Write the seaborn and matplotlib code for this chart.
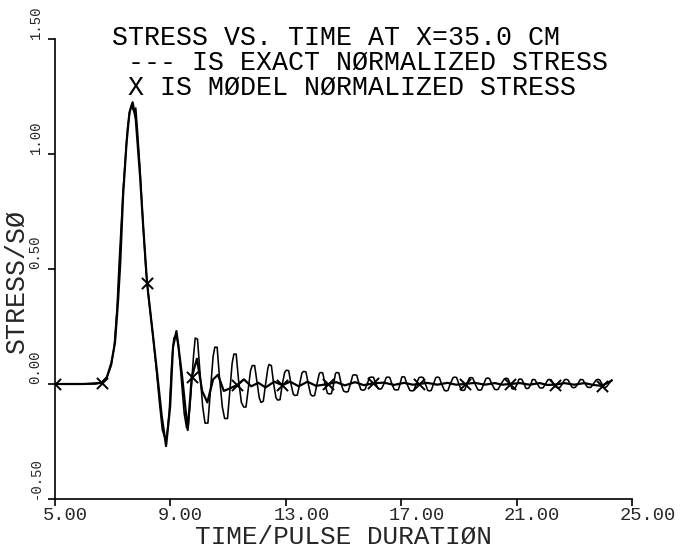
import numpy as np
import pandas as pd
import matplotlib
matplotlib.use("Agg")
import matplotlib.pyplot as plt
import matplotlib.transforms as mtransforms
import seaborn as sns

# ---------------- data ----------------
exact_t = [5.00, 6.40, 6.60, 6.80, 6.95, 7.05, 7.15, 7.22, 7.30, 7.36, 7.45, 7.52, 7.60, 7.66, 7.70,
           7.75, 7.80, 7.86, 7.95, 8.05, 8.15, 8.25, 8.38, 8.50, 8.62, 8.72, 8.80, 8.88, 8.96, 9.05,
           9.12, 9.20, 9.28, 9.38, 9.48, 9.56, 9.62, 9.70, 9.80, 9.86, 9.94, 10.02, 10.12, 10.20,
           10.30, 10.38, 10.48, 10.54, 10.62, 10.70, 10.80, 10.88, 10.98, 11.06, 11.14, 11.20, 11.28,
           11.36, 11.46, 11.54, 11.62, 11.70, 11.78, 11.84, 11.92, 12.00, 12.08, 12.14, 12.22, 12.30,
           12.38, 12.42, 12.50, 12.58, 12.66, 12.72, 12.80, 12.88, 12.96, 13.02, 13.10, 13.18, 13.26,
           13.32, 13.40, 13.48, 13.56, 13.62, 13.70, 13.78, 13.86, 13.92, 14.00, 14.08, 14.16, 14.20,
           14.28, 14.36, 14.44, 14.50, 14.58, 14.66, 14.72, 14.76, 14.84, 14.92, 15.00, 15.08, 15.16,
           15.24, 15.32, 15.38, 15.46, 15.54, 15.60, 15.66, 15.74, 15.82, 15.90, 15.96, 16.04, 16.12,
           16.20, 16.26, 16.32, 16.40, 16.48, 16.52, 16.60, 16.68, 16.76, 16.82, 16.90, 16.96, 17.02,
           17.06, 17.12, 17.20, 17.30, 17.38, 17.44, 17.52, 17.62, 17.68, 17.76, 17.84, 17.92, 17.98,
           18.04, 18.12, 18.20, 18.26, 18.32, 18.40, 18.50, 18.56, 18.62, 18.70, 18.80, 18.86, 18.92,
           19.00, 19.08, 19.14, 19.20, 19.28, 19.36, 19.42, 19.48, 19.56, 19.66, 19.72, 19.78, 19.86,
           19.94, 20.00, 20.06, 20.14, 20.24, 20.30, 20.36, 20.46, 20.58, 20.64, 20.70, 20.78, 20.84,
           20.88, 20.94, 21.02, 21.08, 21.12, 21.18, 21.26, 21.32, 21.36, 21.42, 21.50, 21.54, 21.58,
           21.64, 21.72, 21.80, 21.86, 21.92, 22.00, 22.08, 22.14, 22.20, 22.28, 22.38, 22.44, 22.50,
           22.58, 22.66, 22.72, 22.78, 22.86, 22.92, 22.98, 23.04, 23.12, 23.20, 23.24, 23.30, 23.38,
           23.46, 23.52, 23.58, 23.66, 23.76, 23.82, 23.88, 23.96, 24.02, 24.06, 24.12, 24.22, 24.30]
exact_v = [0.000, 0.000, 0.005, 0.030, 0.080, 0.160, 0.330, 0.520, 0.700, 0.840, 1.000, 1.120, 1.190, 1.215, 1.195,
           1.180, 1.200, 1.100, 0.930, 0.700, 0.500, 0.370, 0.230, 0.080, -0.080, -0.200, -0.230, -0.225, -0.120, 0.100,
           0.200, 0.215, 0.170, 0.020, -0.130, -0.190, -0.180, -0.060, 0.120, 0.200, 0.195, 0.060, -0.100, -0.170,
           -0.170, -0.040, 0.120, 0.160, 0.160, 0.030, -0.100, -0.150, -0.150, -0.030, 0.090, 0.130, 0.130,
           0.020, -0.080, -0.100, -0.100, -0.020, 0.060, 0.080, 0.080, 0.010, -0.060, -0.080, -0.075, 0.000,
           0.070, 0.085, 0.080, 0.000, -0.060, -0.070, -0.068, 0.000, 0.050, 0.060, 0.058, 0.000, -0.045,
           -0.050, -0.048, 0.000, 0.048, 0.055, 0.052, 0.000, -0.045, -0.052, -0.050, 0.000, 0.045, 0.050,
           0.048, 0.000, -0.040, -0.043, -0.042, 0.000, 0.045, 0.050, 0.048, 0.000, -0.030, -0.035, -0.033,
           0.000, 0.038, 0.040, 0.038, 0.000, -0.024, -0.027, -0.025, 0.000, 0.028, 0.030, 0.029, 0.000,
           -0.020, -0.022, -0.020, 0.000, 0.028, 0.030, 0.029, 0.000, -0.024, -0.026, -0.025, 0.000, 0.030,
           0.032, 0.030, 0.000, -0.028, -0.030, -0.028, 0.000, 0.028, 0.030, 0.028, 0.000, -0.028, -0.030,
           -0.028, 0.000, 0.028, 0.030, 0.028, 0.000, -0.028, -0.030, -0.028, 0.000, 0.028, 0.030, 0.028,
           0.000, -0.026, -0.028, -0.026, 0.000, 0.026, 0.028, 0.026, 0.000, -0.025, -0.027, -0.025, 0.000,
           0.024, 0.026, 0.024, 0.000, -0.023, -0.025, -0.023, 0.000, 0.023, 0.025, 0.023, 0.000, -0.020,
           -0.022, -0.020, 0.000, 0.020, 0.022, 0.020, 0.000, -0.018, -0.020, -0.018, 0.000, 0.018, 0.020,
           0.018, 0.000, -0.016, -0.018, -0.016, 0.000, 0.018, 0.020, 0.018, 0.000, -0.015, -0.016, -0.015,
           0.000, 0.018, 0.020, 0.018, 0.000, -0.014, -0.016, -0.014, 0.000, 0.018, 0.020, 0.018, 0.000,
           -0.014, -0.015, -0.014, 0.000, 0.018, 0.020, 0.018, 0.000, -0.014, -0.015, -0.012, 0.005, 0.018]

model_t = [5.00, 6.00, 6.62, 6.80, 6.95, 7.08, 7.18, 7.26, 7.36, 7.48, 7.58, 7.69, 7.80, 7.95, 8.06,
           8.19, 8.36, 8.53, 8.70, 8.85, 8.99, 9.09, 9.21, 9.40, 9.60, 9.74, 9.92, 10.10, 10.28, 10.48,
           10.65, 10.85, 11.05, 11.30, 11.55, 11.80, 12.05, 12.30, 12.60, 12.88, 13.15, 13.45, 13.75,
           14.05, 14.47, 14.75, 15.05, 15.40, 15.70, 16.03, 16.40, 16.75, 17.10, 17.40, 17.62, 17.90,
           18.25, 18.60, 18.90, 19.20, 19.55, 19.90, 20.25, 20.50, 20.77, 21.10, 21.45, 21.80, 22.05,
           22.33, 22.65, 23.00, 23.35, 23.65, 23.95, 24.30]
model_v = [0.000, 0.000, 0.005, 0.030, 0.090, 0.180, 0.350, 0.520, 0.820, 1.050, 1.180, 1.225, 1.150, 0.900, 0.680,
           0.440, 0.250, 0.060, -0.140, -0.270, -0.100, 0.160, 0.230, 0.040, -0.200, 0.030, 0.110, -0.030, -0.080, 0.020,
           0.040, -0.030, -0.020, -0.005, 0.020, -0.010, 0.005, -0.015, 0.010, -0.005, 0.010, -0.010, 0.010,
           -0.008, 0.000, 0.008, -0.006, 0.008, -0.005, 0.003, 0.006, -0.004, 0.005, -0.003, 0.000, 0.005,
           -0.003, 0.005, -0.003, 0.000, 0.005, -0.003, 0.004, -0.003, 0.000, 0.004, -0.003, 0.004, -0.004,
           -0.003, 0.004, -0.003, 0.004, -0.004, -0.008, 0.015]

marker_t = [5.00, 6.62, 8.19, 9.74, 11.30, 12.88, 14.47, 16.03, 17.62, 19.20, 20.77, 22.33, 23.95]
marker_v = [0.000, 0.005, 0.440, 0.030, -0.005, -0.005, 0.000, 0.003, 0.000, 0.000, 0.000, -0.003, -0.008]

x_ticks = [5, 9, 13, 17, 21, 25]
x_tick_labels = ["5.00", "9.00", "13.00", "17.00", "21.00", "25.00"]
y_ticks = [-0.5, 0.0, 0.5, 1.0, 1.5]
y_tick_labels = ["-0.50", "0.00", "0.50", "1.00", "1.50"]

title_lines = ["STRESS VS. TIME AT X=35.0 CM",
               " --- IS EXACT NØRMALIZED STRESS",
               " X IS MØDEL NØRMALIZED STRESS"]
x_label = "TIME/PULSE DURATIØN"
y_label = "STRESS/SØ"

# ---------------- figure ----------------
sns.set_style("ticks")
plt.rcParams["font.family"] = ["Liberation Mono", "DejaVu Sans Mono"]

W, H = 680, 550
fig = plt.figure(figsize=(W / 100, H / 100), dpi=100)
ax = fig.add_axes([55 / W, 1 - 499 / H, 577 / W, 460 / H])

exact_df = pd.DataFrame({"t": exact_t, "v": exact_v})
model_df = pd.DataFrame({"t": model_t, "v": model_v})
marker_df = pd.DataFrame({"t": marker_t, "v": marker_v})

sns.lineplot(data=exact_df, x="t", y="v", ax=ax, color="black", lw=1.15, estimator=None)
sns.lineplot(data=model_df, x="t", y="v", ax=ax, color="black", lw=1.6, estimator=None)
sns.scatterplot(data=marker_df, x="t", y="v", ax=ax, marker="x", color="black",
                s=65, linewidth=1.4, zorder=5)

ax.set_xlim(5, 25)
ax.set_ylim(-0.5, 1.5)
sns.despine(ax=ax)
for sp in ("left", "bottom"):
    ax.spines[sp].set_linewidth(1.2)
    ax.spines[sp].set_color("black")

ax.set_xticks(x_ticks)
ax.set_xticklabels(x_tick_labels, fontsize=13.5, ha="left")
ax.set_yticks(y_ticks)
ax.set_yticklabels(y_tick_labels, fontsize=10)
ax.tick_params(axis="both", direction="out", length=5, width=1.2, color="black")
ax.tick_params(axis="x", pad=1)
ax.tick_params(axis="y", pad=9)

offset = mtransforms.ScaledTranslation(-12.5 / 100, 0, fig.dpi_scale_trans)
for lab in ax.get_xticklabels():
    lab.set_ha("left")
    lab.set_transform(lab.get_transform() + offset)
for lab in ax.get_yticklabels():
    lab.set_rotation(90)
    lab.set_va("bottom")
    lab.set_ha("center")

ax.set_xlabel(x_label, fontsize=18.8)
ax.xaxis.label.set_va("baseline")
ax.xaxis.set_label_coords(0.5, -(544 - 499) / 460)
ax.set_ylabel(y_label, fontsize=19.2, va="center", ha="center")
ax.yaxis.set_label_coords(-0.066, 0.474)

# anchor = baseline of the last title line
fig.text(112 / W, 1 - 95 / H, "\n".join(title_lines), fontsize=19.2, ha="left",
         va="baseline", linespacing=0.94, color="black")

fig.savefig("out.png", dpi=100)
